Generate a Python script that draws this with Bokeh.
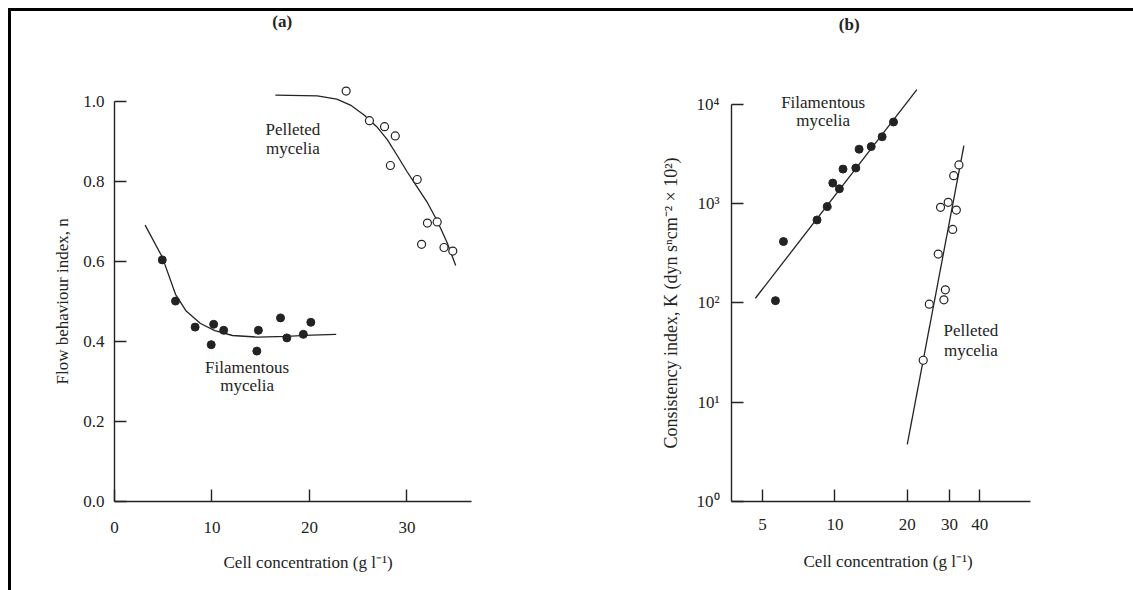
from bokeh.plotting import figure
from bokeh.layouts import row, column
from bokeh.models import (Range1d, FixedTicker, PrintfTickFormatter, CustomJSTickFormatter,
                          Title, Div, Spacer)
from bokeh.embed import file_html
from bokeh.resources import INLINE
from bokeh.core.properties import value

# ---------------- data ----------------
# Panel (a): flow behaviour index n vs cell concentration
a_fil_x = [4.90, 6.26, 8.27, 9.92, 10.17, 11.2, 14.6, 14.76, 17.03, 17.68, 19.37, 20.14]
a_fil_n = [0.604, 0.501, 0.436, 0.392, 0.443, 0.428, 0.376, 0.428, 0.459, 0.409, 0.418, 0.448]
a_fil_curve_x = [3.14, 4.9, 6.26, 7.35, 8.82, 10.29, 12.1, 14.7, 17.6, 20.2, 22.74]
a_fil_curve_n = [0.691, 0.611, 0.518, 0.476, 0.445, 0.427, 0.415, 0.411, 0.413, 0.416, 0.418]

a_pel_x = [23.76, 26.15, 27.7, 28.8, 28.3, 31.05, 32.1, 33.1, 31.5, 33.8, 34.7]
a_pel_n = [1.026, 0.952, 0.937, 0.914, 0.840, 0.805, 0.696, 0.699, 0.643, 0.635, 0.626]
a_pel_curve_x = [16.5, 20.8, 22.8, 24.2, 25.6, 26.9, 28.0, 29.0, 30.0, 31.0, 32.1, 33.1, 34.1, 35.0]
a_pel_curve_n = [1.016, 1.014, 1.006, 0.991, 0.966, 0.937, 0.904, 0.865, 0.825, 0.788, 0.747, 0.702, 0.648, 0.590]

a_x_ticks = [0, 10, 20, 30]
a_y_ticks = [0.0, 0.2, 0.4, 0.6, 0.8, 1.0]

# Panel (b): consistency index K vs cell concentration (log-log)
b_fil_x = [5.66, 6.11, 8.43, 9.29, 9.80, 10.44, 10.81, 12.22, 12.61, 14.16, 15.72, 17.53]
b_fil_K = [105, 413, 681, 930, 1600, 1403, 2213, 2270, 3510, 3730, 4680, 6590]
b_fil_line_x = [4.67, 21.93]
b_fil_line_K = [111, 13930]

b_pel_x = [23.3, 24.7, 26.9, 28.4, 28.8, 27.5, 29.6, 32.0, 30.9, 31.2, 32.8]
b_pel_K = [26.4, 96.8, 309, 107, 135, 912, 1024, 857, 547, 1902, 2440]
b_pel_line_x = [20.0, 34.4]
b_pel_line_K = [3.76, 3820]

b_x_ticks = [5, 10, 20, 30, 40]
b_y_ticks = [1, 10, 100, 1000, 10000]

fil_label = ["Filamentous", "mycelia"]
pel_label = ["Pelleted", "mycelia"]

# ---------------- styling ----------------
FONT = "Liberation Serif"
INK = "#232323"
FS = "17px"
FIG_H = 579


def style_axis(ax):
    ax.axis_line_color = INK
    ax.axis_line_width = 1.4
    ax.major_tick_in = 12
    ax.major_tick_out = 0
    ax.minor_tick_in = 0
    ax.minor_tick_out = 0
    ax.major_tick_line_color = INK
    ax.major_tick_line_width = 1.4
    ax.major_label_text_font = FONT
    ax.major_label_text_font_size = FS
    ax.major_label_text_color = INK


def axis_title(p, txt, side, offset, standoff, size=FS):
    p.add_layout(Title(text=txt, align="left", offset=offset, standoff=standoff,
                       text_font=FONT, text_font_size=size, text_font_style="normal",
                       text_color=INK), side)


def text(p, xs, ys, labels, bold=False):
    p.text(x=xs, y=ys, text=labels, text_font=value(FONT), text_font_size=FS,
           text_align="center", text_baseline="middle", text_color=INK,
           text_font_style="bold" if bold else "normal")


# ---------------- panel (a) ----------------
pa = figure(width=560, height=FIG_H, x_range=Range1d(0, 36.62), y_range=Range1d(0, 1.225),
            output_backend="svg", toolbar_location=None,
            min_border_left=103, min_border_right=100, min_border_top=0, min_border_bottom=89)
pa.grid.visible = False
pa.outline_line_color = None
for ax in (pa.xaxis[0], pa.yaxis[0]):
    style_axis(ax)
pa.xaxis.ticker = FixedTicker(ticks=a_x_ticks, minor_ticks=[])
pa.yaxis.ticker = FixedTicker(ticks=a_y_ticks, minor_ticks=[])
pa.yaxis.formatter = PrintfTickFormatter(format="%.1f")
pa.xaxis.formatter = PrintfTickFormatter(format="%d")
pa.yaxis.bounds = (0, 1.0)
pa.xaxis.bounds = (0, 36.62)
pa.xaxis.major_label_standoff = 20
pa.yaxis.major_label_standoff = 10
axis_title(pa, "Flow behaviour index, n", "left", 117, 17)
axis_title(pa, "Cell concentration (g l\u207b\u00b9)", "below", 109, 30)

pa.line(a_fil_curve_x, a_fil_curve_n, line_color=INK, line_width=1.3)
pa.line(a_pel_curve_x, a_pel_curve_n, line_color=INK, line_width=1.3)
pa.scatter(a_fil_x, a_fil_n, size=8, marker="circle", fill_color=INK, line_color=INK)
pa.scatter(a_pel_x, a_pel_n, size=8, marker="circle", fill_color="white", line_color=INK,
           line_width=1.2)
text(pa, [18.3, 18.3], [0.931, 0.883], pel_label)
text(pa, [13.6, 13.6], [0.336, 0.289], fil_label)
text(pa, [17.2], [1.2], ["(a)"], bold=True)

# ---------------- panel (b) ----------------
pb = figure(width=554, height=FIG_H, x_axis_type="log", y_axis_type="log",
            x_range=Range1d(3.715, 65.1), y_range=Range1d(1, 85300),
            output_backend="svg", toolbar_location=None,
            min_border_left=160, min_border_right=95, min_border_top=0, min_border_bottom=89)
pb.grid.visible = False
pb.outline_line_color = None
for ax in (pb.xaxis[0], pb.yaxis[0]):
    style_axis(ax)
pb.xaxis.ticker = FixedTicker(ticks=b_x_ticks, minor_ticks=[])
pb.yaxis.ticker = FixedTicker(ticks=b_y_ticks, minor_ticks=[])
pb.xaxis.formatter = CustomJSTickFormatter(code="return Math.round(tick).toString();")
pb.yaxis.formatter = CustomJSTickFormatter(code="""
const sup = ['\u2070', '\u00b9', '\u00b2', '\u00b3', '\u2074', '\u2075'];
const e = Math.round(Math.log10(tick));
return '10' + sup[e];
""")
pb.yaxis.bounds = (1, 10000)
pb.xaxis.bounds = (3.715, 65.1)
pb.xaxis.major_label_standoff = 17
pb.yaxis.major_label_standoff = 12
axis_title(pb, "Consistency index, K (dyn s\u207fcm\u207b\u00b2 \u00d7 10\u00b2)", "left", 53, 25,
           size="18px")
axis_title(pb, "Cell concentration (g l\u207b\u00b9)", "below", 72, 34)

pb.line(b_fil_line_x, b_fil_line_K, line_color=INK, line_width=1.3)
pb.line(b_pel_line_x, b_pel_line_K, line_color=INK, line_width=1.3)
pb.scatter(b_fil_x, b_fil_K, size=8, marker="circle", fill_color=INK, line_color=INK)
pb.scatter(b_pel_x, b_pel_K, size=8, marker="circle", fill_color="white", line_color=INK,
           line_width=1.2)
text(pb, [8.94, 8.94], [10420, 6790], fil_label)
text(pb, [36.8, 36.8], [52.9, 33.3], pel_label)
text(pb, [11.47], [63000], ["(b)"], bold=True)

# ---------------- frame lines of the scanned page + page offset ----------------
top_bar = Div(text="", width=1125, height=3, margin=0, styles={"background-color": "#000"})
left_bar = Div(text="", width=3, height=FIG_H, margin=0, styles={"background-color": "#000"})
inner = column(top_bar, row(left_bar, pa, pb, spacing=0), spacing=0)
layout = column(Spacer(height=8, margin=0),
                row(Spacer(width=8, margin=0), inner, spacing=0), spacing=0)

open("out.html", "w").write(file_html(layout, INLINE))
